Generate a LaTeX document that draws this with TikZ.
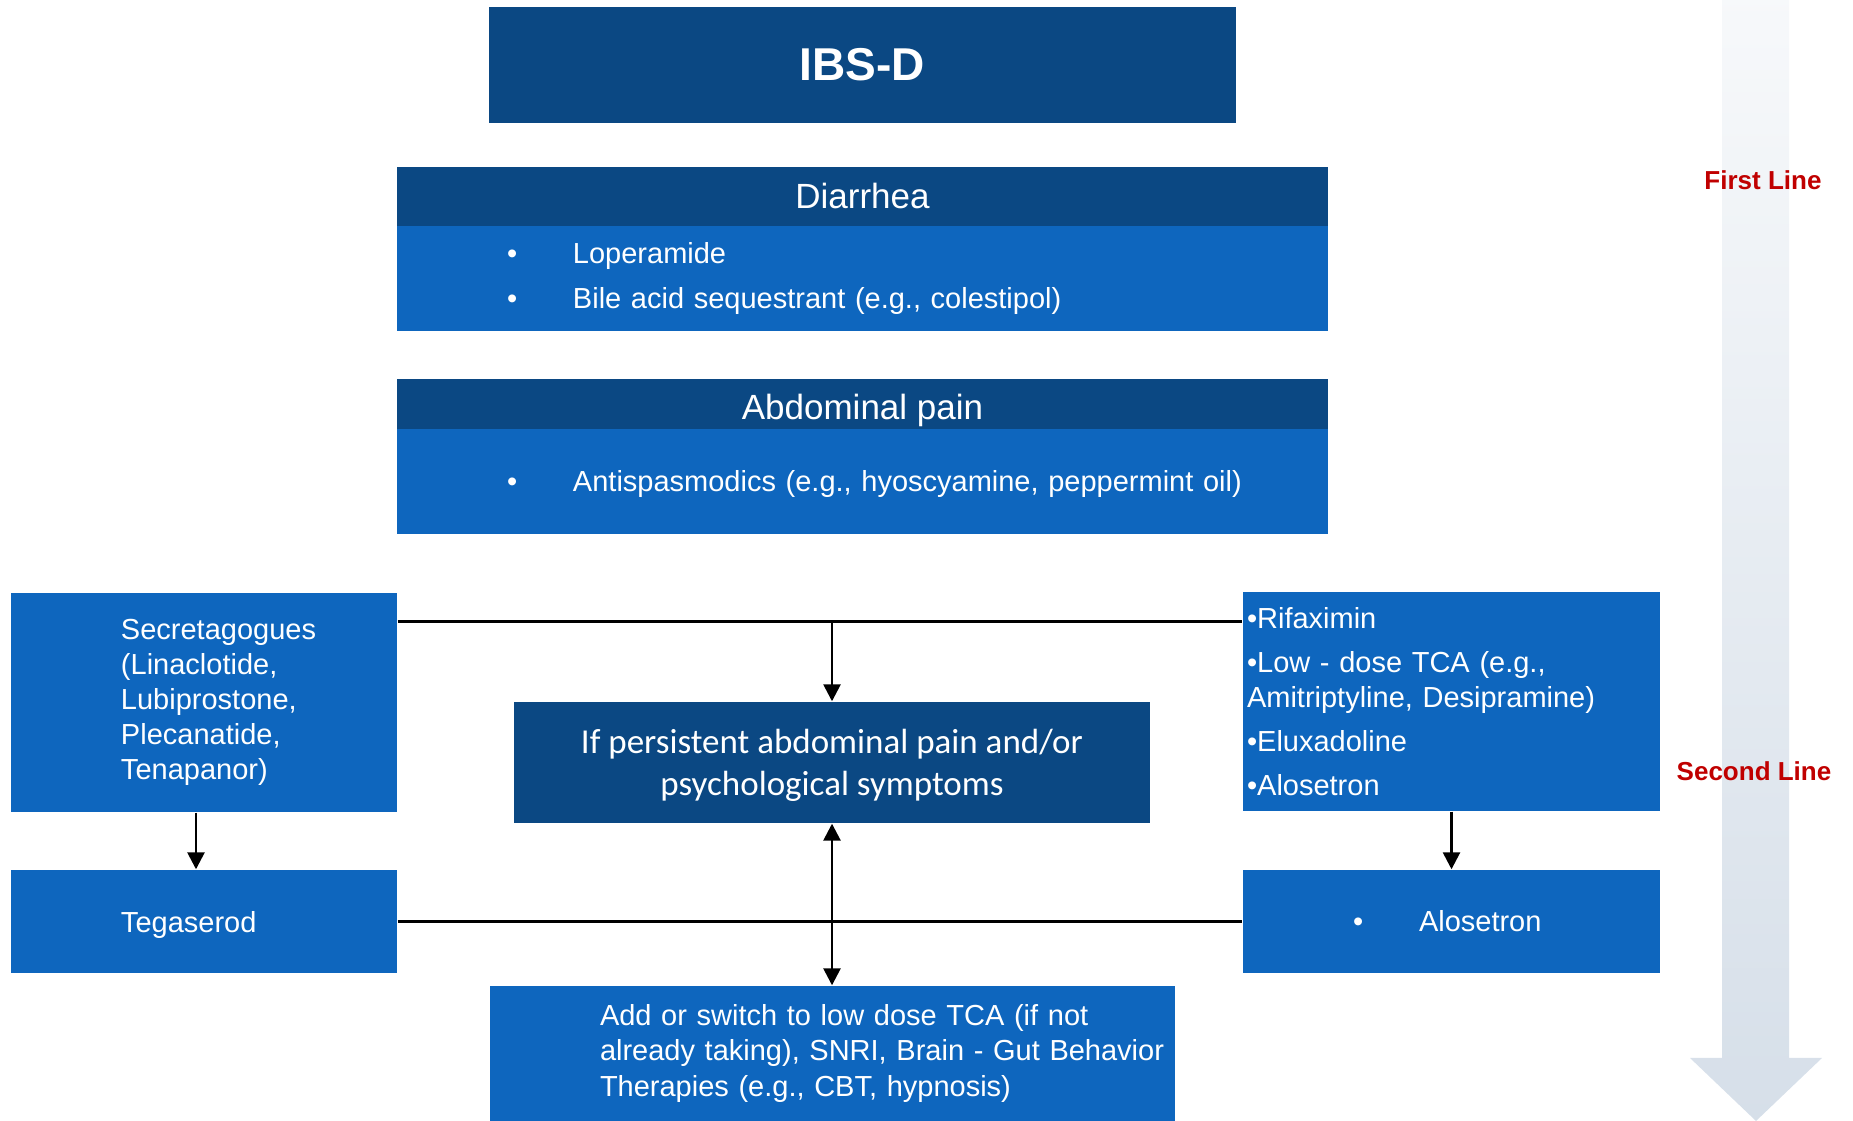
\documentclass[tikz,border=0pt]{standalone}
\usepackage{fontspec}
\setmainfont{Liberation Sans}
\newfontfamily\calibri{Carlito}
\usetikzlibrary{arrows.meta,calc}
\definecolor{IBSNavy}{HTML}{0B4883}
\definecolor{IBSBlue}{HTML}{0E66BE}
\definecolor{IBSRed}{HTML}{C00000}
\definecolor{IBSMist}{HTML}{D6DFE9}
% bullet with a hanging gap before the item text
\newcommand{\itm}{\makebox[0.66cm][l]{\textbullet}}

\begin{document}
\begin{tikzpicture}[
  every node/.style={font=\fontsize{8.25}{9.96}\selectfont, text=white},
  box/.style={rectangle, fill=IBSBlue, inner xsep=0pt, inner ysep=0pt, align=left},
  head/.style={rectangle, fill=IBSNavy, inner sep=0pt, align=center, font=\fontsize{9.96}{11.95}\selectfont},
  link/.style={draw=black, line width=0.75pt},
  arr/.style={link, -{Triangle[length=4.8pt,width=4.8pt]}},
  arrs/.style={link, {Triangle[length=4.8pt,width=4.8pt]}-{Triangle[length=4.8pt,width=4.8pt]}},
  tier/.style={font=\bfseries\fontsize{7.4}{8.9}\selectfont, text=IBSRed}
]
\useasboundingbox (0,0) rectangle (18.53,-11.21);

%% Side arrow -- first line down to second line
\shade[top color=IBSMist!20, bottom color=IBSMist]
  (17.22,0) -- (17.89,0) -- (17.89,-10.58) -- (18.22,-10.58) -- (17.56,-11.21)
  -- (16.90,-10.58) -- (17.22,-10.58) -- cycle;
\node[tier] (first) at (17.63,-1.80) {First Line};
\node[tier] (second) at (17.54,-7.71) {Second Line};

%% Title and first-line symptom boxes
\node[head, minimum width=7.47cm, minimum height=1.16cm, font=\bfseries\fontsize{13.1}{15.7}\selectfont] (ibsd) at (8.625,-0.65) {IBS-D};

\node[head, minimum width=9.31cm, minimum height=0.59cm] (diahead) at (8.625,-1.965) {Diarrhea};
\node[box, text width=9.31cm, minimum height=1.05cm, anchor=north] (diabody) at ([yshift=0.4pt]diahead.south)
  {\leftskip=1.10cm \itm Loperamide\\[0.1cm]\itm Bile acid sequestrant (e.g., colestipol)\par\vskip-2pt};

\node[head, minimum width=9.31cm, minimum height=0.50cm, text height=9pt, text depth=0pt] (painhead) at (8.625,-4.04) {Abdominal pain};
\node[box, text depth=0pt, text width=9.31cm, minimum height=1.05cm, anchor=north] (painbody) at ([yshift=0.4pt]painhead.south)
  {\leftskip=1.10cm \itm Antispasmodics (e.g., hyoscyamine, peppermint oil)\par};

%% Second line
\node[box, text width=3.86cm, minimum height=2.19cm] (secr) at (2.04,-7.025)
  {\leftskip=1.10cm Secretagogues\\(Linaclotide,\\Lubiprostone,\\Plecanatide,\\Tenapanor)\par\vskip-2pt};
\node[box, text depth=0pt, text width=3.86cm, minimum height=1.03cm] (tegas) at (2.04,-9.215)
  {\leftskip=1.10cm Tegaserod\par};

\node[head, text depth=0pt, minimum width=6.36cm, minimum height=1.21cm, font=\calibri\fontsize{9.96}{11.95}\selectfont] (persist) at (8.32,-7.625)
  {If persistent abdominal pain and/or\\psychological symptoms};

\node[box, text width=4.17cm, minimum height=2.19cm] (rifax) at (14.515,-7.015)
  {\leftskip=0.04cm \textbullet Rifaximin\\[0.09cm]\textbullet Low - dose TCA (e.g.,\\Amitriptyline, Desipramine)\\[0.09cm]\textbullet Eluxadoline\\[0.09cm]\textbullet Alosetron\par};
\node[box, text width=4.17cm, minimum height=1.03cm] (alos) at (14.515,-9.215)
  {\leftskip=1.10cm \itm Alosetron\par};

\node[box, text width=6.85cm, minimum height=1.35cm] (addtca) at (8.325,-10.535)
  {\leftskip=1.10cm Add or switch to low dose TCA (if not\\already taking), SNRI, Brain - Gut Behavior\\Therapies (e.g., CBT, hypnosis)\par\vskip-1.5pt};

%% Connectors
\coordinate (jn) at ($(persist.north)+(0,0.80)$);
\draw[link] (jn -| secr.east) -- (jn -| rifax.west);
\draw[arr] (jn) -- (persist.north);
\draw[arr] ([xshift=-0.08cm]secr.south) -- ([xshift=-0.08cm]tegas.north);
\draw[arr] (rifax.south) -- (alos.north);
\draw[link] (tegas.east) -- (alos.west);
\draw[arrs] (persist.south) -- (persist.south |- addtca.north);
\end{tikzpicture}
\end{document}
